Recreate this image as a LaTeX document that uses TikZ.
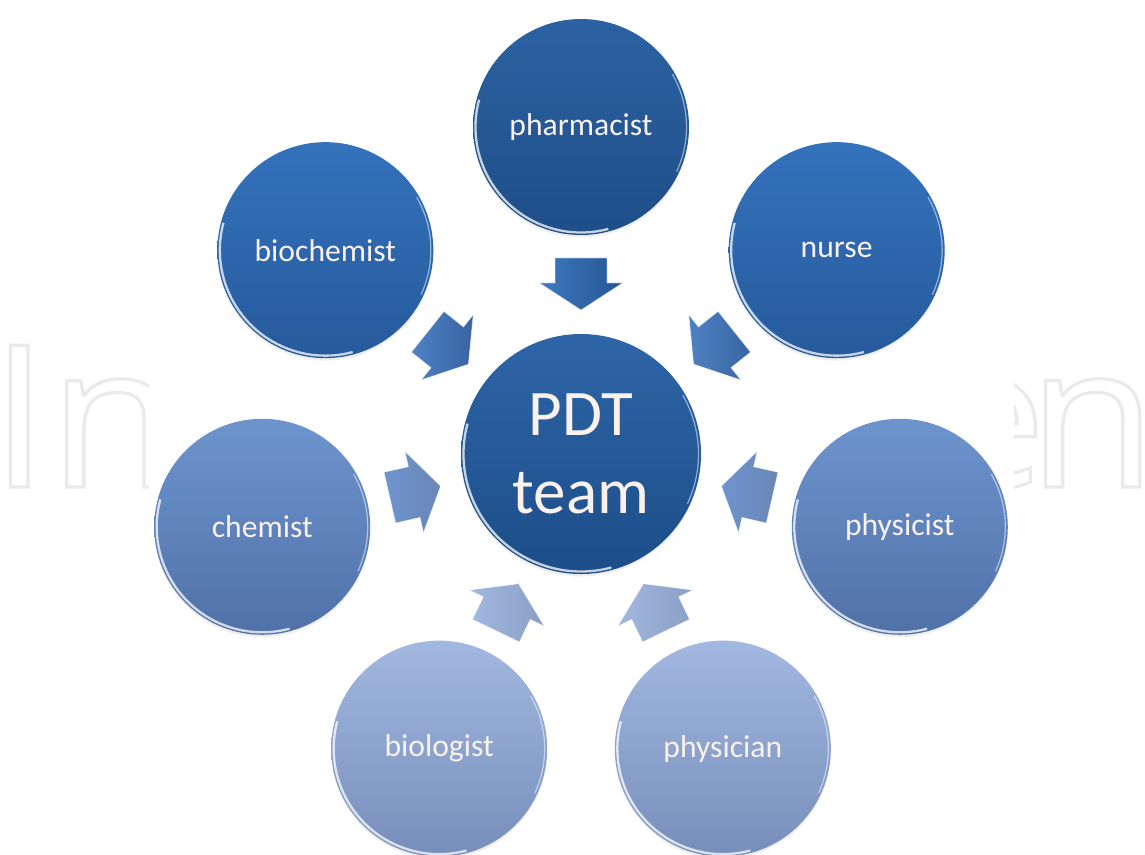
\documentclass[tikz,border=0pt]{standalone}
\usepackage{fontspec}
\setmainfont{Carlito}
\newfontfamily\markfont{Open Sans}
\usetikzlibrary{positioning,calc,shadows}

\definecolor{labeltext}{RGB}{250,241,236}
\definecolor{hubtop}{RGB}{46,101,167}
\definecolor{hubbot}{RGB}{28,77,136}
\definecolor{pharmtop}{RGB}{44,98,162}
\definecolor{pharmbot}{RGB}{30,78,136}
\definecolor{upptop}{RGB}{52,114,188}
\definecolor{uppbot}{RGB}{38,90,156}
\definecolor{midtop}{RGB}{110,148,206}
\definecolor{midbot}{RGB}{80,113,168}
\definecolor{lowtop}{RGB}{162,184,224}
\definecolor{lowbot}{RGB}{118,142,186}
\definecolor{markgray}{RGB}{234,234,234}

\newcommand{\outlined}[1]{\scalebox{1.062}[1]{\special{pdf:literal direct 1 Tr 1.8 w}#1\special{pdf:literal direct 0 Tr}}}

\begin{document}
\begin{tikzpicture}[
    hub/.style={circle,minimum size=4.8cm,inner sep=0pt,top color=hubtop,bottom color=hubbot,
        text=labeltext,font=\fontsize{37}{44}\selectfont,align=center,gloss=2.35cm,soft shadow},
    spoke/.style={circle,minimum size=4.32cm,inner sep=0pt,text=labeltext,
        font=\fontsize{18}{22}\selectfont,gloss=2.11cm,soft shadow},
    gloss/.style={path picture={
        \draw[white,opacity=.75,line width=1.3pt] ([shift={(165:#1)}]path picture bounding box.center)
            arc[start angle=165,end angle=285,radius=#1];
        \draw[white,opacity=.5,line width=.7pt] ([shift={(-25:#1)}]path picture bounding box.center)
            arc[start angle=-25,end angle=30,radius=#1];
    }},
    soft shadow/.style={drop shadow={opacity=.12,shadow xshift=0pt,shadow yshift=-.05cm}},
    watermark/.style={inner sep=0pt,text=markgray,font=\markfont\fontsize{113}{120}\selectfont},
    toneA/.style={top color=pharmtop,bottom color=pharmbot},
    toneB/.style={top color=upptop,bottom color=uppbot},
    toneC/.style={top color=midtop,bottom color=midbot},
    toneD/.style={top color=lowtop,bottom color=lowbot},
    feedA/.style={left color=upptop!95!white,right color=uppbot!95!black},
    feedB/.style={left color=upptop!55!midtop,right color=uppbot!55!midbot},
    feedC/.style={left color=midtop,right color=midbot!85!white},
    feedD/.style={left color=lowtop,right color=lowbot!85!white},
    pics/feedarrow/.style={code={
        \path[#1,draw=white,draw opacity=.5,line width=.4pt,line join=round]
            (-0.52,-0.52) -- (-0.02,-0.52) -- (-0.02,-0.83) -- (0.52,0)
            -- (-0.02,0.83) -- (-0.02,0.52) -- (-0.52,0.52) -- cycle;
    }}
]

% Page and watermark
\fill[white] (-11.62,-8.0) rectangle (11.28,9.08);
\useasboundingbox (-11.62,-8.0) rectangle (11.28,9.08);
\node[watermark,anchor=base west] (markleft) at (-11.83,-0.66) {\outlined{In}};
\node[watermark,anchor=base east] (markright) at (11.52,-0.66) {\outlined{e\kern-0.36cm n}};
\fill[white] (-8.64,-8.0) rectangle (8.66,9.08);

% Central hub
\node[hub] (team) at (0,0) {PDT\\team};

% Members around the hub
\node[spoke,toneA] (pharmacist) at (90:6.54) {pharmacist};
\node[spoke,toneB] (nurse) at (38.57:6.54) {nurse};
\node[spoke,toneC] (physicist) at (-12.86:6.54) {physicist};
\node[spoke,toneD] (physician) at (-64.29:6.54) {physician};
\node[spoke,toneD] (biologist) at (-115.71:6.54) {biologist};
\node[spoke,toneC] (chemist) at (-167.14:6.54) {chemist};
\node[spoke,toneB] (biochemist) at (141.43:6.54) {biochemist};

% Arrows into the hub
\pic[rotate=-90] (in1) at ($(team)!0.52!(pharmacist)$) {feedarrow=feedA};
\pic[rotate=218.57] (in2) at ($(team)!0.52!(nurse)$) {feedarrow=feedB};
\pic[rotate=167.14] (in3) at ($(team)!0.52!(physicist)$) {feedarrow=feedC};
\pic[rotate=115.71] (in4) at ($(team)!0.52!(physician)$) {feedarrow=feedD};
\pic[rotate=64.29] (in5) at ($(team)!0.52!(biologist)$) {feedarrow=feedD};
\pic[rotate=12.86] (in6) at ($(team)!0.52!(chemist)$) {feedarrow=feedC};
\pic[rotate=-38.57] (in7) at ($(team)!0.52!(biochemist)$) {feedarrow=feedB};

\end{tikzpicture}
\end{document}
